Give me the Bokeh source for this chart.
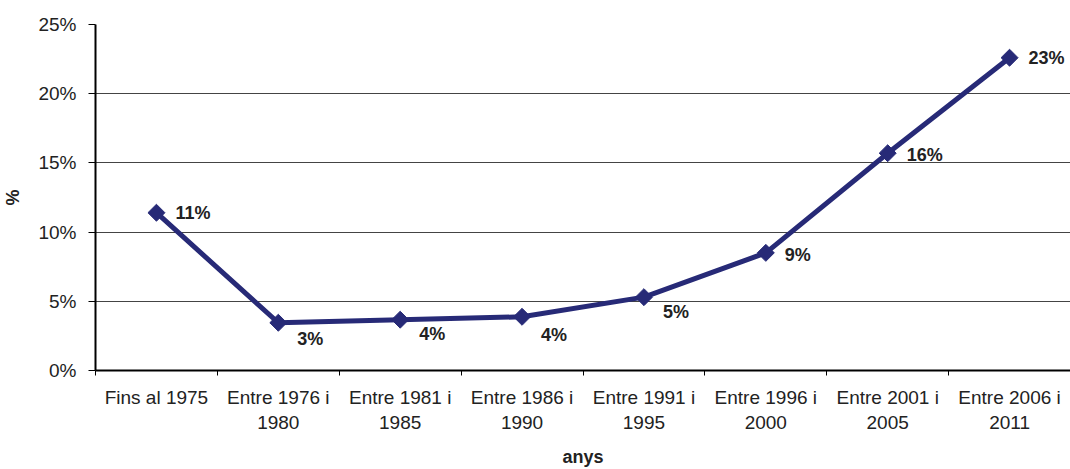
import math
from bokeh.plotting import figure
from bokeh.models import ColumnDataSource, FixedTicker, PrintfTickFormatter, Range1d
from bokeh.core.properties import value
from bokeh.embed import file_html
from bokeh.resources import INLINE

categories = ["Fins al 1975", "Entre 1976 i\n1980", "Entre 1981 i\n1985", "Entre 1986 i\n1990",
              "Entre 1991 i\n1995", "Entre 1996 i\n2000", "Entre 2001 i\n2005", "Entre 2006 i\n2011"]
values = [11.4, 3.45, 3.67, 3.88, 5.3, 8.5, 15.7, 22.6]
labels = ["11%", "3%", "4%", "4%", "5%", "9%", "16%", "23%"]
label_dy = [0, 16, 14, 18, 15, 2, 2, 0]
y_ticks = [0, 5, 10, 15, 20, 25]

xs = [i + 0.5 for i in range(len(categories))]
src = ColumnDataSource(dict(x=xs, y=values, lab=labels, dy=label_dy))

p = figure(width=1070, height=469, output_backend="svg", toolbar_location=None,
           x_range=Range1d(0, len(categories)), y_range=Range1d(0, 25),
           min_border_left=94, min_border_right=0, min_border_top=24, min_border_bottom=99)
p.outline_line_color = None
p.background_fill_color = "white"
p.border_fill_color = "white"

FONT = "Liberation Sans"
TXT = "#222222"
NAVY = "#272a77"

p.line("x", "y", source=src, line_color=NAVY, line_width=5)
p.scatter("x", "y", source=src, marker="square", size=12, angle=math.pi / 4,
          fill_color=NAVY, line_color=NAVY)
p.text("x", "y", text="lab", source=src, x_offset=19, y_offset="dy",
       text_font=value(FONT), text_font_style="bold", text_font_size="18px",
       text_color=TXT, text_align="left", text_baseline="middle")

# x axis
xa = p.xaxis[0]
xa.ticker = FixedTicker(ticks=xs, minor_ticks=list(range(len(categories) + 1)))
xa.major_label_overrides = {x: c for x, c in zip(xs, categories)}
xa.major_tick_line_color = None
xa.major_tick_out = 0
xa.major_tick_in = 0
xa.minor_tick_out = 5
xa.minor_tick_in = 0
xa.minor_tick_line_color = "black"
xa.minor_tick_line_width = 1
xa.axis_line_color = "black"
xa.axis_line_width = 2
xa.major_label_text_font = FONT
xa.major_label_text_font_size = "19px"
xa.major_label_text_color = TXT
xa.major_label_standoff = 11
xa.axis_label = "anys"
xa.axis_label_text_font = FONT
xa.axis_label_text_font_style = "bold"
xa.axis_label_text_font_size = "18px"
xa.axis_label_text_color = TXT
xa.axis_label_standoff = 11

# y axis
ya = p.yaxis[0]
ya.ticker = FixedTicker(ticks=y_ticks, minor_ticks=[])
ya.formatter = PrintfTickFormatter(format="%d%%")
ya.major_tick_out = 7
ya.major_tick_in = 0
ya.major_tick_line_color = "black"
ya.axis_line_color = "black"
ya.axis_line_width = 2
ya.major_label_text_font = FONT
ya.major_label_text_font_size = "19px"
ya.major_label_text_color = TXT
ya.major_label_standoff = 12
ya.axis_label = "%"
ya.axis_label_text_font = FONT
ya.axis_label_text_font_style = "bold"
ya.axis_label_text_font_size = "18px"
ya.axis_label_text_color = TXT
ya.axis_label_standoff = 12

p.xgrid.grid_line_color = None
p.ygrid.ticker = FixedTicker(ticks=y_ticks[1:])
p.ygrid.grid_line_color = "#444444"
p.ygrid.grid_line_width = 1

open("out.html", "w").write(file_html(p, INLINE))
